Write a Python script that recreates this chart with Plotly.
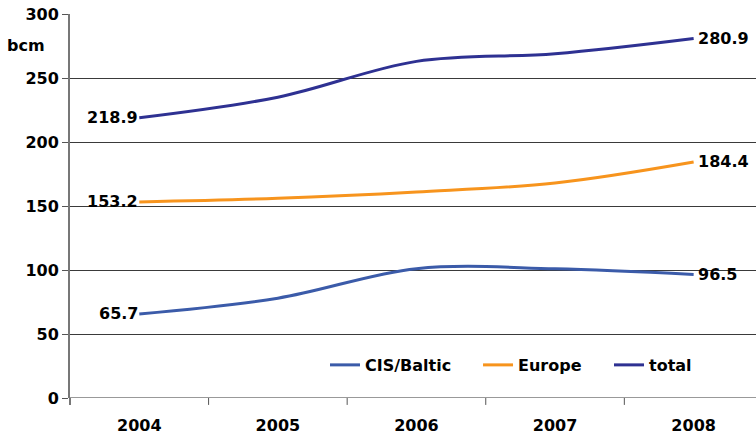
import plotly.graph_objects as go

years = ["2004", "2005", "2006", "2007", "2008"]
cis_baltic = [65.7, 78.0, 101.0, 101.0, 96.5]
europe = [153.2, 156.0, 161.0, 168.0, 184.4]
total = [218.9, 235.0, 263.0, 269.0, 280.9]
y_ticks = [0, 50, 100, 150, 200, 250, 300]

series = [
    ("CIS/Baltic", cis_baltic, "#3B5BA9", "legend", 0.3717),
    ("Europe", europe, "#F7941D", "legend2", 0.5948),
    ("total", total, "#2E3192", "legend3", 0.7857),
]

font_family = "DejaVu Sans"
fig = go.Figure()
legend_layouts = {}
for name, vals, color, leg, lx in series:
    fig.add_trace(go.Scatter(
        x=list(range(len(years))), y=vals, name=f"<b>{name}</b>", mode="lines",
        line=dict(color=color, width=3, shape="spline", smoothing=1.0),
        legend=leg,
    ))
    legend_layouts[leg] = dict(
        orientation="h", x=lx, y=0.086, xanchor="left", yanchor="middle",
        font=dict(family=font_family, size=16, color="black"),
        bgcolor="rgba(0,0,0,0)", itemwidth=30,
    )
    fig.add_annotation(x=0, y=vals[0], xref="x", yref="y", text=f"<b>{vals[0]}</b>", showarrow=False,
                       xanchor="right", yanchor="middle", xshift=1,
                       font=dict(family=font_family, size=16, color="black"))
    fig.add_annotation(x=len(years) - 1, y=vals[-1], xref="x", yref="y", text=f"<b>{vals[-1]}</b>",
                       showarrow=False, xanchor="left", yanchor="middle", xshift=2,
                       font=dict(family=font_family, size=16, color="black"))

fig.add_annotation(x=-0.064, y=0.919, xref="paper", yref="paper", text="<b>bcm</b>", showarrow=False,
                   xanchor="center", yanchor="middle",
                   font=dict(family=font_family, size=16, color="black"))

fig.update_layout(
    width=756, height=436,
    margin=dict(l=70, r=0, t=14, b=38),
    paper_bgcolor="white", plot_bgcolor="white",
    font=dict(family=font_family, size=16, color="black"),
    showlegend=True,
    xaxis=dict(
        range=[-0.5, 4.45], tickmode="array",
        tickvals=list(range(len(years))), ticktext=[f"<b>{y}</b>" for y in years],
        showgrid=False, zeroline=False, showline=False,
        ticks="", tickfont=dict(size=16, weight="bold"), ticklabelstandoff=16,
    ),
    yaxis=dict(
        range=[0, 300], tickmode="array", tickvals=y_ticks,
        ticktext=[f"<b>{v}</b>" for v in y_ticks],
        showgrid=True, gridcolor="#3a3a3a", gridwidth=1,
        zeroline=False, showline=True, linecolor="#777777", linewidth=2,
        ticks="outside", ticklen=6, tickcolor="#555555",
        tickfont=dict(size=16, weight="bold"),
    ),
    **legend_layouts,
)

fig.add_shape(type="line", xref="paper", yref="y", x0=0, x1=1, y0=0, y1=0,
              line=dict(color="#333333", width=1))
for i in range(len(years)):
    fig.add_shape(type="line", xref="x", yref="paper", x0=i - 0.5, x1=i - 0.5,
                  y0=0, y1=-0.018, line=dict(color="#555555", width=1))
fig.add_shape(type="line", xref="paper", yref="paper", x0=0, x1=0, y0=0, y1=-0.018,
              line=dict(color="#777777", width=2))

fig.write_html("out.html")
